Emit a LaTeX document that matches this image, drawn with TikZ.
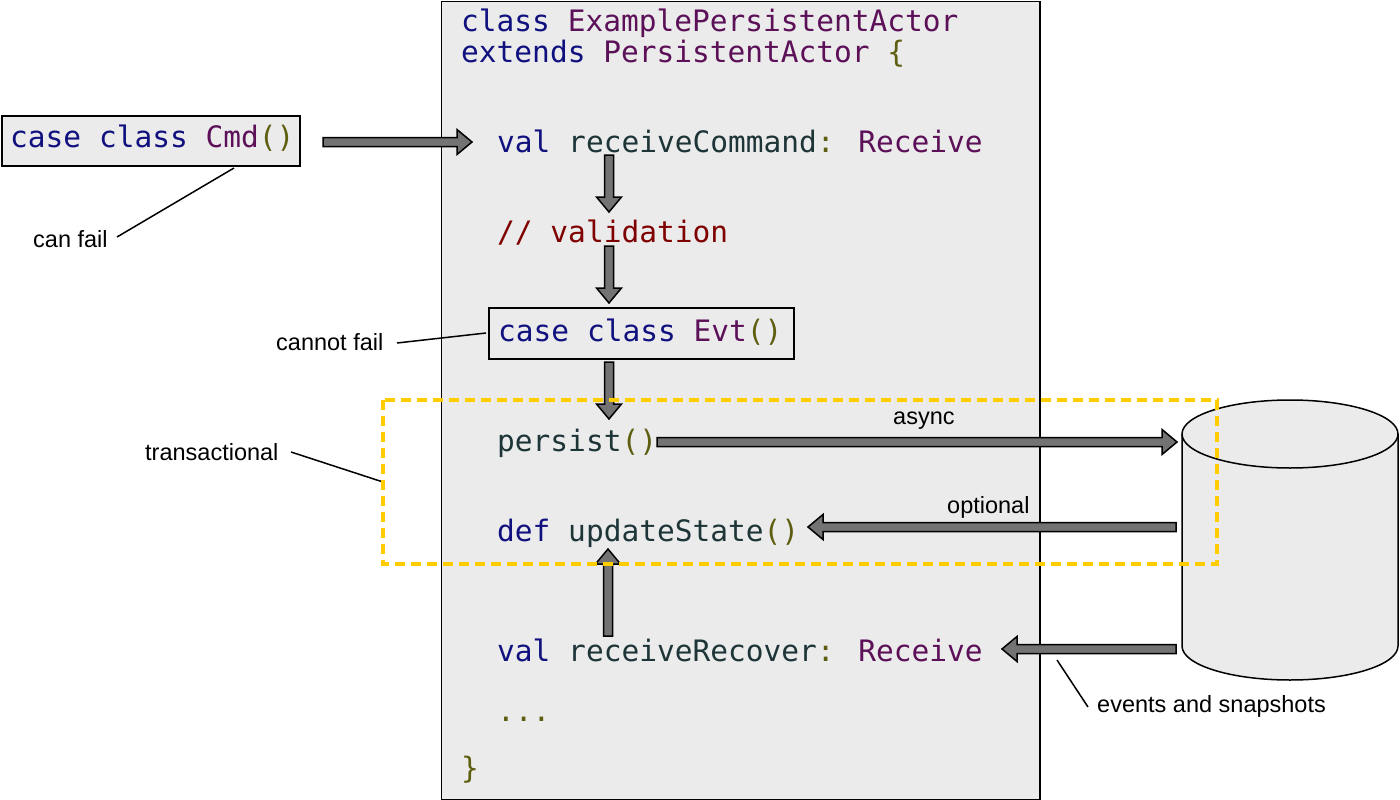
\documentclass[tikz,border=0pt]{standalone}
\usepackage{fontspec}
\setmainfont{Liberation Sans}
\newfontfamily\codefont{DejaVu Sans Mono}
\usetikzlibrary{calc}
\definecolor{kwc}{HTML}{10107F}
\definecolor{tyc}{HTML}{5C1058}
\definecolor{idc}{HTML}{1E3538}
\definecolor{puc}{HTML}{5E5E10}
\definecolor{cmc}{HTML}{7F0000}
\definecolor{boxgray}{HTML}{EBEBEB}
\definecolor{arrowgray}{HTML}{737373}
\definecolor{txyellow}{HTML}{FFCC00}
\newcommand{\kw}[1]{\textcolor{kwc}{#1}}
\newcommand{\ty}[1]{\textcolor{tyc}{#1}}
\newcommand{\idn}[1]{\textcolor{idc}{#1}}
\newcommand{\pu}[1]{\textcolor{puc}{#1}}
\newcommand{\cmt}[1]{\textcolor{cmc}{#1}}
\newcommand{\fatarrow}[2]{%
  \coordinate (fatC) at ($(#2)!15pt!(#1)$);
  \draw[fatarrowstyle]
    ($(#1)!4.5pt!90:(#2)$) -- ($(fatC)!4.5pt!90:(#2)$) -- ($(fatC)!12.5pt!90:(#2)$) --
    (#2) -- ($(fatC)!12.5pt!-90:(#2)$) -- ($(fatC)!4.5pt!-90:(#2)$) -- ($(#1)!4.5pt!-90:(#2)$) -- cycle;}
\begin{document}
\begin{tikzpicture}[x=1pt,y=-1pt,
  code/.style={anchor=base west, inner sep=0pt, font=\codefont\fontsize{29.5}{32}\selectfont},
  lbl/.style={anchor=base west, inner sep=0pt, font=\fontsize{23.5}{26}\selectfont},
  codebox/.style={draw=black, fill=boxgray, line width=2pt, inner sep=0pt, anchor=north west},
  fatarrowstyle/.style={fill=arrowgray, draw=black, line width=1.5pt, line join=miter},
  leader/.style={draw=black, line width=1.5pt},
  txbox/.style={draw=txyellow, line width=3.5pt, dash pattern=on 10pt off 6pt}]
\useasboundingbox (0,0) rectangle (1400,800);
\fill[white] (0,0) rectangle (1400,800);

% main actor box
\node (actor) [draw=black, fill=boxgray, line width=1.5pt, inner sep=0pt, anchor=north west,
  minimum width=598.5pt, minimum height=798.5pt] at (440.75,0.75) {};

% code lines
\node (cls1) [code] at (461,32) {\kw{class} \ty{ExamplePersistentActor}};
\node (cls2) [code] at (461,63) {\kw{extends} \ty{PersistentActor} \pu{\{}};
\node (recv) [code] at (497,152) {\kw{val} \idn{receiveCommand}\pu{:} \ty{Receive}};
\node (valid) [code] at (497,242) {\cmt{// validation}};
\node (evtbox) [codebox, minimum width=305pt, minimum height=51pt] at (488,307) {};
\node (evt) [code] at (498,341) {\kw{case} \kw{class} \ty{Evt}\pu{()}};
\node (persist) [code] at (497,451) {\idn{persist}\pu{()}};
\node (update) [code] at (497,541) {\kw{def} \idn{updateState}\pu{()}};
\node (recover) [code] at (497,661) {\kw{val} \idn{receiveRecover}\pu{:} \ty{Receive}};
\node (dots) [code] at (497,721) {\pu{...}};
\node (close) [code] at (461,778) {\pu{\}}};

% command box
\node (cmdbox) [codebox, minimum width=298pt, minimum height=50pt] at (1,115) {};
\node (cmd) [code] at (10,147) {\kw{case} \kw{class} \ty{Cmd}\pu{()}};

% journal cylinder
\coordinate (db) at (1290,434);
\fill[boxgray] (1182,434) -- (1182,646) arc[start angle=180, end angle=360, x radius=108pt, y radius=34pt] -- (1398,434) -- cycle;
\draw[line width=1.5pt] (1182,434) -- (1182,646) arc[start angle=180, end angle=360, x radius=108pt, y radius=34pt] -- (1398,434);
\draw[line width=1.5pt, fill=boxgray] (db) ellipse[x radius=108pt, y radius=34pt];

% arrow end points
\coordinate (a1s) at (323,142);  \coordinate (a1e) at (472,142);
\coordinate (a2s) at (609,155);  \coordinate (a2e) at (609,212);
\coordinate (a3s) at (609,246);  \coordinate (a3e) at (609,303);
\coordinate (a4s) at (609,362);  \coordinate (a4e) at (609,419);
\coordinate (a5s) at (657,442);  \coordinate (a5e) at (1177,442);
\coordinate (a6s) at (1176,527); \coordinate (a6e) at (808,527);
\coordinate (a7s) at (608,636);  \coordinate (a7e) at (608,549);
\coordinate (a8s) at (1176,649); \coordinate (a8e) at (1002,649);
\fatarrow{a1s}{a1e}
\fatarrow{a2s}{a2e}
\fatarrow{a3s}{a3e}
\fatarrow{a4s}{a4e}
\fatarrow{a5s}{a5e}
\fatarrow{a6s}{a6e}
\fatarrow{a7s}{a7e}
\fatarrow{a8s}{a8e}

% labels
\node (async) [lbl] at (893,424) {async};
\node (optional) [lbl] at (947,513) {optional};
\node (canfail) [lbl] at (33,247) {can fail};
\node (cannotfail) [lbl] at (276,350) {cannot fail};
\node (trans) [lbl] at (145,460) {transactional};
\node (events) [lbl] at (1097,712) {events and snapshots};

% leader lines
\coordinate (l1a) at (117,237); \coordinate (l1b) at (234,168);
\coordinate (l2a) at (397,343); \coordinate (l2b) at (486,333);
\coordinate (l3a) at (291,452); \coordinate (l3b) at (383,482);
\coordinate (l4a) at (1088,707); \coordinate (l4b) at (1057,660);
\draw[leader] (l1a) -- (l1b);
\draw[leader] (l2a) -- (l2b);
\draw[leader] (l3a) -- (l3b);
\draw[leader] (l4a) -- (l4b);

% transactional region
\draw[txbox] (383,400) rectangle (1217,564);
\end{tikzpicture}
\end{document}
